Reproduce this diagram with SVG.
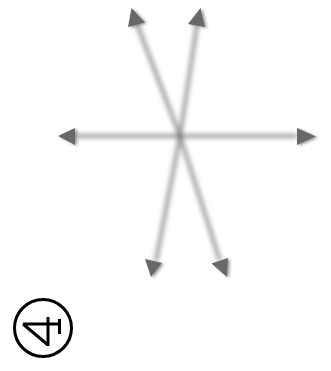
<svg xmlns="http://www.w3.org/2000/svg" width="331" height="371" viewBox="0 0 331 371">
<defs>
<filter id="blur" x="-20%" y="-20%" width="140%" height="140%"><feGaussianBlur stdDeviation="2.3"/></filter>
<filter id="shadow" x="-50%" y="-50%" width="200%" height="200%">
<feGaussianBlur in="SourceAlpha" stdDeviation="1.6"/><feOffset dx="2" dy="1" result="b"/>
<feComponentTransfer in="b" result="s"><feFuncA type="linear" slope="0.4"/></feComponentTransfer>
<feMerge><feMergeNode in="s"/><feMergeNode in="SourceGraphic"/></feMerge>
</filter>
</defs>
<style>
.ln{stroke:#7a7a7a;stroke-width:5;stroke-opacity:0.6;fill:none}
.hd{fill:#676767}
.sym{fill:none;stroke:#000;stroke-width:3}
</style>
<rect width="331" height="371" fill="#fff"/>
<g id="connectors">
<g filter="url(#blur)">
<line class="ln" x1="180" y1="136" x2="76" y2="136"/>
<line class="ln" x1="180" y1="136" x2="297" y2="136"/>
<line class="ln" x1="180" y1="136" x2="137" y2="24"/>
<line class="ln" x1="180" y1="136" x2="197" y2="25"/>
<line class="ln" x1="180" y1="136" x2="156" y2="261"/>
<line class="ln" x1="180" y1="136" x2="220" y2="261"/>
</g>
<g filter="url(#shadow)">
<polygon class="hd" points="58,136 75,128 75,145"/>
<polygon class="hd" points="316,136.5 297,128 297,145"/>
<polygon class="hd" points="131.5,8 128,27 145,22.5"/>
<polygon class="hd" points="200.5,8 188,24 205,27"/>
<polygon class="hd" points="151,277 145,259 162,263"/>
<polygon class="hd" points="227,277 211.5,263.5 228,258"/>
</g>
</g>
<g id="symbol">
<circle class="sym" cx="43" cy="328" r="28.5"/>
<path class="sym" d="M23,324 L60,324 M23,324 L48,345 M59.5,319 L59.5,334"/>
<path class="sym" stroke-width="4" d="M48,317 L48,346"/>
</g>
</svg>
